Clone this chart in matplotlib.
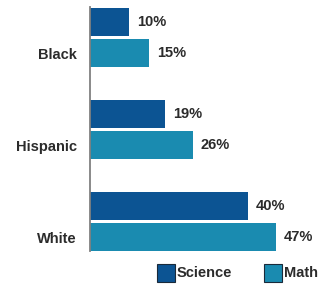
import numpy as np
import matplotlib.pyplot as plt
from matplotlib.patches import Rectangle

plt.rcParams['font.family'] = ['Liberation Sans', 'DejaVu Sans']

groups = ['Black', 'Hispanic', 'White']
science = [10, 19, 40]
math = [15, 26, 47]
series = ['Science', 'Math']

c_sci = '#0c5493'
c_math = '#1a8bb0'
txt = '#2b2b2b'
fs = 10.5

W, H = 319, 287
fig = plt.figure(figsize=(W / 100, H / 100), dpi=100)
ax = fig.add_axes([90 / W, 36 / H, 229 / W, 244 / H])

y = np.arange(len(groups))
h = 0.304
off = 0.168
b1 = ax.barh(y - off, science, height=h, color=c_sci)
b2 = ax.barh(y + off, math, height=h, color=c_math)

ax.bar_label(b1, labels=[f'{v}%' for v in science], padding=5.8,
             fontsize=fs, fontweight='bold', color=txt)
ax.bar_label(b2, labels=[f'{v}%' for v in math], padding=5.8,
             fontsize=fs, fontweight='bold', color=txt)

ax.set_xlim(0, 58)
ax.set_ylim(2.32, -0.332)
ax.set_xticks([])
ax.set_yticks(y + off)
ax.set_yticklabels(groups, fontsize=fs, fontweight='bold', color=txt)
ax.tick_params(axis='y', length=0, pad=9.4)
for s in ['top', 'right', 'bottom']:
    ax.spines[s].set_visible(False)
ax.spines['left'].set_color('#808080')
ax.spines['left'].set_linewidth(1.3)

# legend drawn by hand: square + label
for x0, name, col in zip([157, 264], series, [c_sci, c_math]):
    fig.patches.append(Rectangle((x0 / W, 1 - 282 / H), 18 / W, 18 / H,
                                 transform=fig.transFigure, facecolor=col,
                                 edgecolor='#1a2a3a', linewidth=0.8))
    fig.text((x0 + 20) / W, 1 - 273 / H, name, ha='left', va='center',
             fontsize=fs, fontweight='bold', color=txt)

fig.savefig('out.png', dpi=100)
